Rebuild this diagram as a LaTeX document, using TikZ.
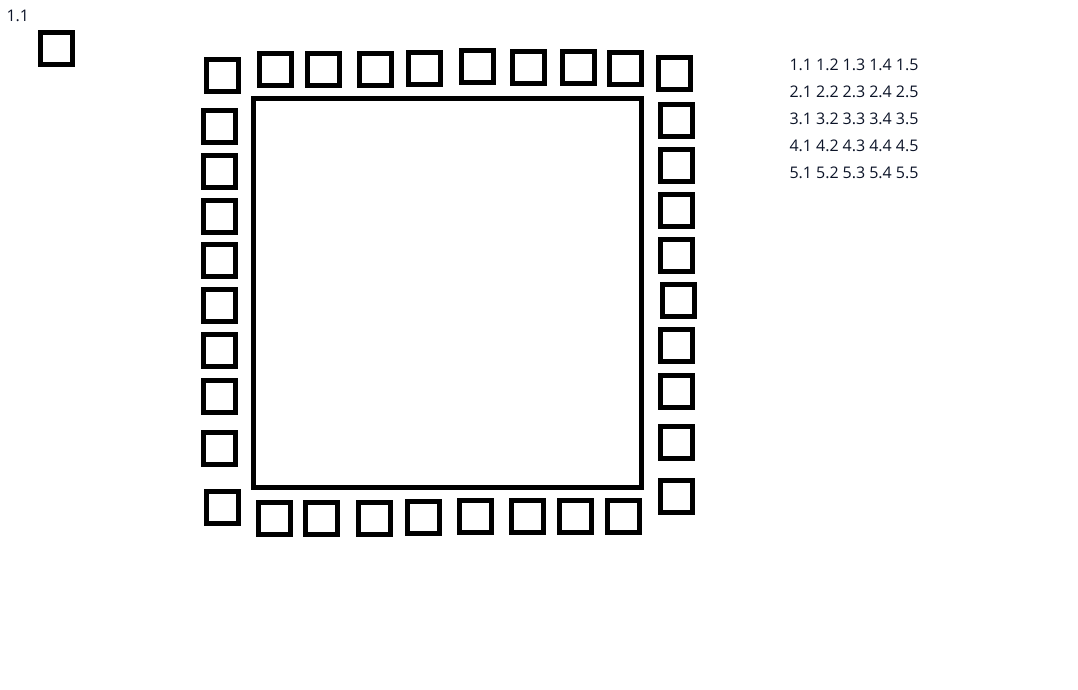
\documentclass[tikz,border=0pt]{standalone}
\usepackage{fontspec}
\setmainfont{Open Sans}
\definecolor{labelcol}{RGB}{12,20,40}

\begin{document}
\begin{tikzpicture}[x=0.75pt,y=-0.75pt,line width=3.75pt]
  \tikzset{lbl/.style={text=labelcol,font=\fontsize{12}{14}\selectfont,inner sep=0pt,anchor=base west}}
  \useasboundingbox(0,0)rectangle(1078,689);
  \node[lbl] (tag) at (4,21) {1.1};
  \draw(40.5,32.5)rectangle++(32,32);
  % die
  \draw(253.5,98.5)rectangle(641.5,487.5);
  % pads
  \foreach \x/\y in {257/51,305/51,357/51,406/50,459/48,510/49,560/49,607/50}
    \draw(\x+2.5,\y+2.5)rectangle++(32,32);
  \foreach \x/\y in {256/500,303/500,356/500,405/499,457/498,509/498,557/498,605/498}
    \draw(\x+2.5,\y+2.5)rectangle++(32,32);
  \foreach \x/\y in {204/57,201/108,201/153,201/198,201/242,201/287,201/332,201/378,201/430,204/489}
    \draw(\x+2.5,\y+2.5)rectangle++(32,32);
  \foreach \x/\y in {656/55,658/102,658/147,658/192,658/237,660/282,658/327,658/373,658/424,658/478}
    \draw(\x+2.5,\y+2.5)rectangle++(32,32);
  \foreach \r in {1,...,5}
    \foreach \c in {1,...,5}
      \node[lbl] (g\r\c) at ({787+26.6*(\c-1)},{70+27*(\r-1)}) {\r.\c};
\end{tikzpicture}
\end{document}
